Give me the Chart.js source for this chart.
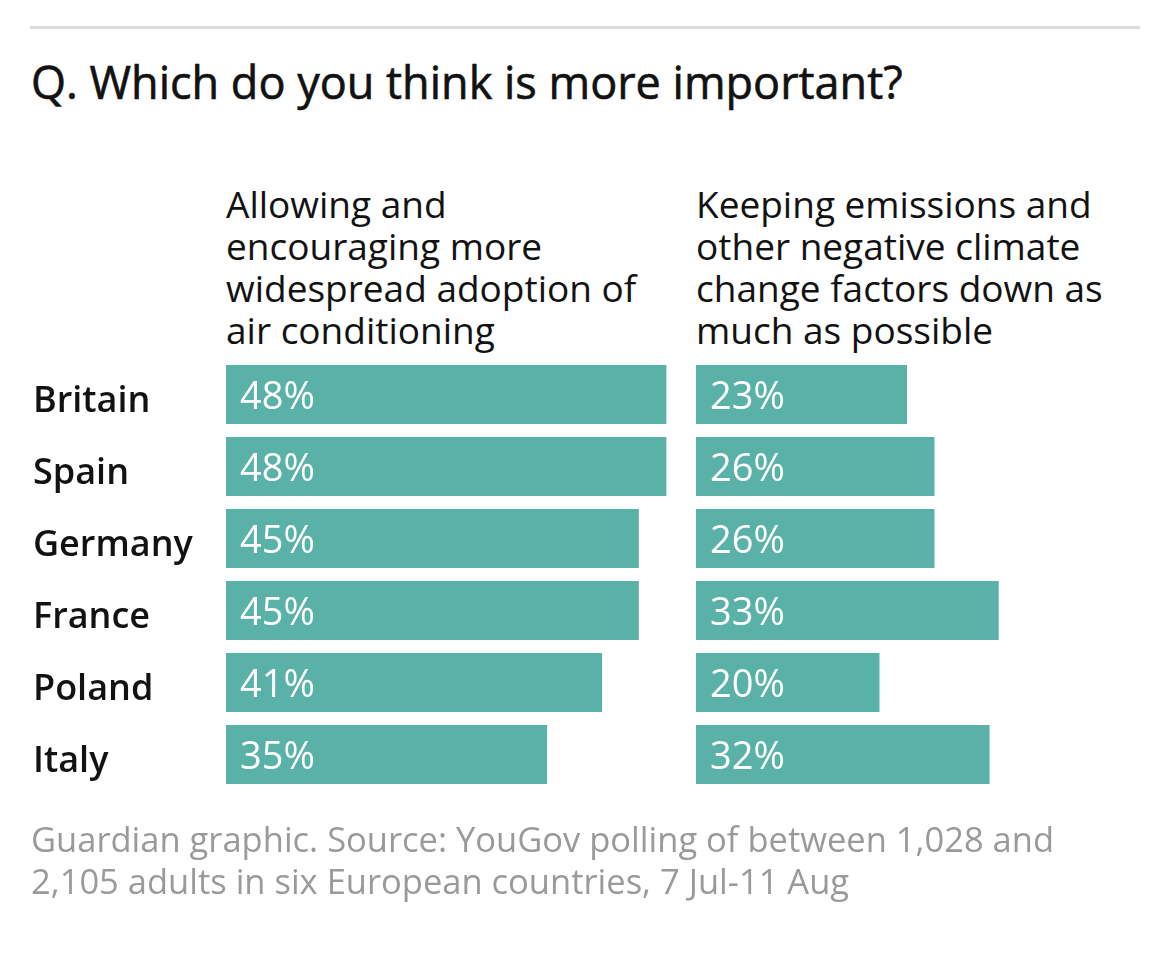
<!DOCTYPE html>
<html>
<head>
<meta charset="utf-8">
<script src="https://cdn.jsdelivr.net/npm/chart.js@4"></script>
<style>
  body { margin: 0; background: #fff; font-family: "Open Sans", sans-serif; color: #121212; }
  #page { position: relative; width: 1170px; height: 966px; overflow: hidden; }
  .rule { position: absolute; left: 30px; top: 26px; width: 1110px; height: 3px; background: #dcdcdc; }
  .title { position: absolute; left: 31px; top: 52px; font-size: 45px; line-height: 60px; -webkit-text-stroke: 0.6px #121212; white-space: nowrap; }
  .head { position: absolute; top: 183px; font-size: 37px; line-height: 42px; white-space: nowrap; }
  .foot { position: absolute; left: 31px; top: 818px; font-size: 34.5px; line-height: 42px; color: #9a9a9a; white-space: nowrap; }
  canvas { position: absolute; }
</style>
</head>
<body>
<div id="page">
  <div class="rule"></div>
  <div class="title">Q. Which do you think is more important?</div>
  <div class="head" style="left:226px">Allowing and<br>encouraging more<br>widespread adoption of<br>air conditioning</div>
  <div class="head" style="left:696px">Keeping emissions and<br>other negative climate<br>change factors down as<br>much as possible</div>
  <div style="position:absolute;left:0;top:310px;width:680px;height:530px"><canvas id="leftChart"></canvas></div>
  <div style="position:absolute;left:680px;top:310px;width:490px;height:530px"><canvas id="rightChart"></canvas></div>
  <div class="foot">Guardian graphic. Source: YouGov polling of between 1,028 and<br>2,105 adults in six European countries, 7 Jul-11 Aug</div>
</div>
<script>
const countries = ['Britain', 'Spain', 'Germany', 'France', 'Poland', 'Italy'];
const airCon = [48, 48, 45, 45, 41, 35];
const emissions = [23, 26, 26, 33, 20, 32];

const teal = '#5ab1a7';

// writes "NN%" inside each bar, near its start
const barLabels = {
    id: 'barLabels',
    afterDatasetsDraw(chart) {
        const ctx = chart.ctx;
        const meta = chart.getDatasetMeta(0);
        const vals = chart.data.datasets[0].data;
        ctx.save();
        ctx.fillStyle = '#fff';
        ctx.font = '38px "Open Sans"';
        ctx.textAlign = 'left';
        ctx.textBaseline = 'middle';
        meta.data.forEach((bar, i) => {
            ctx.fillText(vals[i] + '%', bar.base + 14, bar.y + 4);
        });
        ctx.restore();
    }
};

function makeChart(id, values, showNames, pad) {
    return new Chart(document.getElementById(id), {
        type: 'bar',
        data: {
            labels: countries,
            datasets: [{
                data: values,
                backgroundColor: teal,
                barPercentage: 0.82,
                categoryPercentage: 1
            }]
        },
        options: {
            indexAxis: 'y',
            responsive: true,
            maintainAspectRatio: false,
            animation: false,
            layout: { padding: pad },
            plugins: { legend: { display: false }, tooltip: { enabled: false } },
            scales: {
                x: { display: false, min: 0, max: 48.4 },
                y: {
                    display: showNames,
                    grid: { display: false },
                    border: { display: false },
                    afterFit: (s) => { if (showNames) s.width = 193; },
                    ticks: {
                        crossAlign: 'far',
                        padding: 0,
                        labelOffset: 7,
                        color: '#121212',
                        font: { family: 'Open Sans', size: 36, weight: '600' }
                    }
                }
            }
        },
        plugins: [barLabels]
    });
}

makeChart('leftChart', airCon, true, { left: 33, right: 10, top: 48.5, bottom: 49.5 });
makeChart('rightChart', emissions, false, { left: 16, right: 30, top: 48.5, bottom: 49.5 });
</script>
</body>
</html>
